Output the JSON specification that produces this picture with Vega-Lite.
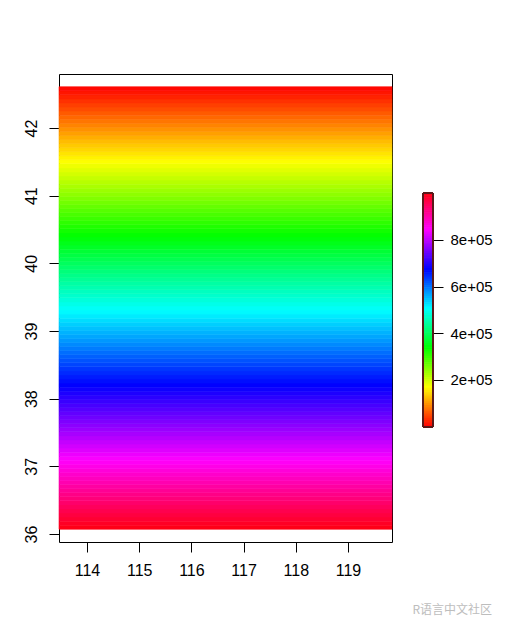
{
  "$schema": "https://vega.github.io/schema/vega-lite/v6.json",
  "padding": {"left": 22, "top": 73, "right": 0, "bottom": 0},
  "background": "white",
  "spacing": 29,
  "config": {
    "font": "Liberation Sans",
    "axis": {"grid": false, "domain": false, "tickColor": "black", "tickSize": 10, "tickWidth": 1, "labelColor": "black", "labelFont": "Liberation Sans"},
    "view": {"stroke": null}
  },
  "title": {"text": "R语言中文社区", "orient": "bottom", "anchor": "end", "fontSize": 12, "fontWeight": "normal", "color": "#bdbdbd", "font": "Noto Sans CJK SC", "offset": 26},
  "data": {"values": [
    {"lat_min": 36.07, "lat_max": 36.13, "value": 995000},
    {"lat_min": 36.13, "lat_max": 36.19, "value": 985830},
    {"lat_min": 36.19, "lat_max": 36.25, "value": 976660},
    {"lat_min": 36.25, "lat_max": 36.31, "value": 967490},
    {"lat_min": 36.31, "lat_max": 36.37, "value": 958320},
    {"lat_min": 36.37, "lat_max": 36.43, "value": 949150},
    {"lat_min": 36.43, "lat_max": 36.49, "value": 939980},
    {"lat_min": 36.49, "lat_max": 36.55, "value": 930810},
    {"lat_min": 36.55, "lat_max": 36.61, "value": 921640},
    {"lat_min": 36.61, "lat_max": 36.67, "value": 912470},
    {"lat_min": 36.67, "lat_max": 36.73, "value": 903300},
    {"lat_min": 36.73, "lat_max": 36.79, "value": 894130},
    {"lat_min": 36.79, "lat_max": 36.85, "value": 884960},
    {"lat_min": 36.85, "lat_max": 36.91, "value": 875790},
    {"lat_min": 36.91, "lat_max": 36.97, "value": 866620},
    {"lat_min": 36.97, "lat_max": 37.03, "value": 857450},
    {"lat_min": 37.03, "lat_max": 37.09, "value": 848280},
    {"lat_min": 37.09, "lat_max": 37.15, "value": 839110},
    {"lat_min": 37.15, "lat_max": 37.21, "value": 829940},
    {"lat_min": 37.21, "lat_max": 37.27, "value": 820770},
    {"lat_min": 37.27, "lat_max": 37.33, "value": 811600},
    {"lat_min": 37.33, "lat_max": 37.39, "value": 802430},
    {"lat_min": 37.39, "lat_max": 37.45, "value": 793260},
    {"lat_min": 37.45, "lat_max": 37.51, "value": 784090},
    {"lat_min": 37.51, "lat_max": 37.57, "value": 774920},
    {"lat_min": 37.57, "lat_max": 37.63, "value": 765750},
    {"lat_min": 37.63, "lat_max": 37.69, "value": 756580},
    {"lat_min": 37.69, "lat_max": 37.75, "value": 747410},
    {"lat_min": 37.75, "lat_max": 37.81, "value": 738240},
    {"lat_min": 37.81, "lat_max": 37.87, "value": 729070},
    {"lat_min": 37.87, "lat_max": 37.93, "value": 719900},
    {"lat_min": 37.93, "lat_max": 37.99, "value": 710730},
    {"lat_min": 37.99, "lat_max": 38.05, "value": 701560},
    {"lat_min": 38.05, "lat_max": 38.11, "value": 692390},
    {"lat_min": 38.11, "lat_max": 38.17, "value": 683220},
    {"lat_min": 38.17, "lat_max": 38.23, "value": 674050},
    {"lat_min": 38.23, "lat_max": 38.29, "value": 664880},
    {"lat_min": 38.29, "lat_max": 38.35, "value": 655710},
    {"lat_min": 38.35, "lat_max": 38.41, "value": 646540},
    {"lat_min": 38.41, "lat_max": 38.47, "value": 637370},
    {"lat_min": 38.47, "lat_max": 38.53, "value": 628200},
    {"lat_min": 38.53, "lat_max": 38.59, "value": 619030},
    {"lat_min": 38.59, "lat_max": 38.65, "value": 609860},
    {"lat_min": 38.65, "lat_max": 38.71, "value": 600690},
    {"lat_min": 38.71, "lat_max": 38.77, "value": 591520},
    {"lat_min": 38.77, "lat_max": 38.83, "value": 582350},
    {"lat_min": 38.83, "lat_max": 38.89, "value": 573180},
    {"lat_min": 38.89, "lat_max": 38.95, "value": 564010},
    {"lat_min": 38.95, "lat_max": 39.01, "value": 554840},
    {"lat_min": 39.01, "lat_max": 39.07, "value": 545670},
    {"lat_min": 39.07, "lat_max": 39.13, "value": 536500},
    {"lat_min": 39.13, "lat_max": 39.19, "value": 527330},
    {"lat_min": 39.19, "lat_max": 39.25, "value": 518160},
    {"lat_min": 39.25, "lat_max": 39.31, "value": 508990},
    {"lat_min": 39.31, "lat_max": 39.37, "value": 499820},
    {"lat_min": 39.37, "lat_max": 39.43, "value": 490650},
    {"lat_min": 39.43, "lat_max": 39.49, "value": 481480},
    {"lat_min": 39.49, "lat_max": 39.55, "value": 472310},
    {"lat_min": 39.55, "lat_max": 39.61, "value": 463140},
    {"lat_min": 39.61, "lat_max": 39.67, "value": 453970},
    {"lat_min": 39.67, "lat_max": 39.73, "value": 444800},
    {"lat_min": 39.73, "lat_max": 39.79, "value": 435630},
    {"lat_min": 39.79, "lat_max": 39.85, "value": 426460},
    {"lat_min": 39.85, "lat_max": 39.91, "value": 417290},
    {"lat_min": 39.91, "lat_max": 39.97, "value": 408120},
    {"lat_min": 39.97, "lat_max": 40.03, "value": 398950},
    {"lat_min": 40.03, "lat_max": 40.09, "value": 389780},
    {"lat_min": 40.09, "lat_max": 40.15, "value": 380610},
    {"lat_min": 40.15, "lat_max": 40.21, "value": 371440},
    {"lat_min": 40.21, "lat_max": 40.27, "value": 362270},
    {"lat_min": 40.27, "lat_max": 40.33, "value": 353100},
    {"lat_min": 40.33, "lat_max": 40.39, "value": 343930},
    {"lat_min": 40.39, "lat_max": 40.45, "value": 334760},
    {"lat_min": 40.45, "lat_max": 40.51, "value": 325590},
    {"lat_min": 40.51, "lat_max": 40.57, "value": 316420},
    {"lat_min": 40.57, "lat_max": 40.63, "value": 307250},
    {"lat_min": 40.63, "lat_max": 40.69, "value": 298080},
    {"lat_min": 40.69, "lat_max": 40.75, "value": 288910},
    {"lat_min": 40.75, "lat_max": 40.81, "value": 279740},
    {"lat_min": 40.81, "lat_max": 40.87, "value": 270570},
    {"lat_min": 40.87, "lat_max": 40.93, "value": 261400},
    {"lat_min": 40.93, "lat_max": 40.99, "value": 252230},
    {"lat_min": 40.99, "lat_max": 41.05, "value": 243060},
    {"lat_min": 41.05, "lat_max": 41.11, "value": 233890},
    {"lat_min": 41.11, "lat_max": 41.17, "value": 224720},
    {"lat_min": 41.17, "lat_max": 41.23, "value": 215550},
    {"lat_min": 41.23, "lat_max": 41.29, "value": 206380},
    {"lat_min": 41.29, "lat_max": 41.35, "value": 197210},
    {"lat_min": 41.35, "lat_max": 41.41, "value": 188040},
    {"lat_min": 41.41, "lat_max": 41.47, "value": 178870},
    {"lat_min": 41.47, "lat_max": 41.53, "value": 169700},
    {"lat_min": 41.53, "lat_max": 41.59, "value": 160530},
    {"lat_min": 41.59, "lat_max": 41.65, "value": 151360},
    {"lat_min": 41.65, "lat_max": 41.71, "value": 142190},
    {"lat_min": 41.71, "lat_max": 41.77, "value": 133020},
    {"lat_min": 41.77, "lat_max": 41.83, "value": 123850},
    {"lat_min": 41.83, "lat_max": 41.89, "value": 114680},
    {"lat_min": 41.89, "lat_max": 41.95, "value": 105510},
    {"lat_min": 41.95, "lat_max": 42.01, "value": 96340},
    {"lat_min": 42.01, "lat_max": 42.07, "value": 87170},
    {"lat_min": 42.07, "lat_max": 42.13, "value": 78000},
    {"lat_min": 42.13, "lat_max": 42.19, "value": 68830},
    {"lat_min": 42.19, "lat_max": 42.25, "value": 59660},
    {"lat_min": 42.25, "lat_max": 42.31, "value": 50490},
    {"lat_min": 42.31, "lat_max": 42.37, "value": 41320},
    {"lat_min": 42.37, "lat_max": 42.43, "value": 32150},
    {"lat_min": 42.43, "lat_max": 42.49, "value": 22980},
    {"lat_min": 42.49, "lat_max": 42.55, "value": 13810},
    {"lat_min": 42.55, "lat_max": 42.61, "value": 4640}
  ]},
  "hconcat": [
    {
      "width": 333,
      "height": 468,
      "view": {"stroke": "black", "strokeWidth": 1},
      "mark": {"type": "rect", "strokeWidth": 0.6},
      "encoding": {
        "x": {"datum": 113.464, "type": "quantitative",
          "scale": {"domain": [113.464, 119.843], "nice": false, "zero": false},
          "axis": {"title": null, "values": [114, 115, 116, 117, 118, 119], "labelFontSize": 16, "labelPadding": 10}},
        "x2": {"datum": 119.843},
        "y": {"field": "lat_min", "type": "quantitative",
          "scale": {"domain": [35.882, 42.798], "nice": false, "zero": false},
          "axis": {"title": null, "values": [36, 37, 38, 39, 40, 41, 42], "labelFontSize": 16, "labelAngle": -90, "labelPadding": 10, "labelAlign": "center", "labelBaseline": "bottom"}},
        "y2": {"field": "lat_max"},
        "color": {"field": "value", "type": "quantitative", "legend": null,
          "scale": {"domain": [0, 168333, 336667, 505000, 673333, 841667, 1010000],
            "range": ["#FF0000", "#FFFF00", "#00FF00", "#00FFFF", "#0000FF", "#FF00FF", "#FF0000"], "interpolate": "rgb"}},
        "stroke": {"field": "value", "type": "quantitative", "legend": null,
          "scale": {"domain": [0, 168333, 336667, 505000, 673333, 841667, 1010000],
            "range": ["#FF0000", "#FFFF00", "#00FF00", "#00FFFF", "#0000FF", "#FF00FF", "#FF0000"], "interpolate": "rgb"}}
      }
    },
    {
      "width": 10,
      "height": 468,
      "encoding": {
        "y": {"field": "value", "type": "quantitative",
          "scale": {"domain": [-493800, 1510500], "nice": false, "zero": false},
          "axis": {"orient": "right", "title": null, "values": [200000, 400000, 600000, 800000], "labelFontSize": 15, "labelPadding": 7,
            "labelExpr": "replace(format(datum.value, '.0e'), 'e+', 'e+0')"}}
      },
      "layer": [
        {
          "mark": {"type": "tick", "orient": "horizontal", "thickness": 2.8, "size": 10, "opacity": 1},
          "encoding": {
            "color": {"field": "value", "type": "quantitative", "legend": null,
              "scale": {"domain": [0, 168333, 336667, 505000, 673333, 841667, 1010000],
                "range": ["#FF0000", "#FFFF00", "#00FF00", "#00FFFF", "#0000FF", "#FF00FF", "#FF0000"], "interpolate": "rgb"}}
          }
        },
        {
          "mark": {"type": "rect", "fill": null, "fillOpacity": 0, "stroke": "#5a1a1a", "strokeWidth": 1},
          "encoding": {
            "y": {"datum": 0, "type": "quantitative"},
            "y2": {"datum": 1000000}
          }
        }
      ]
    }
  ]
}
